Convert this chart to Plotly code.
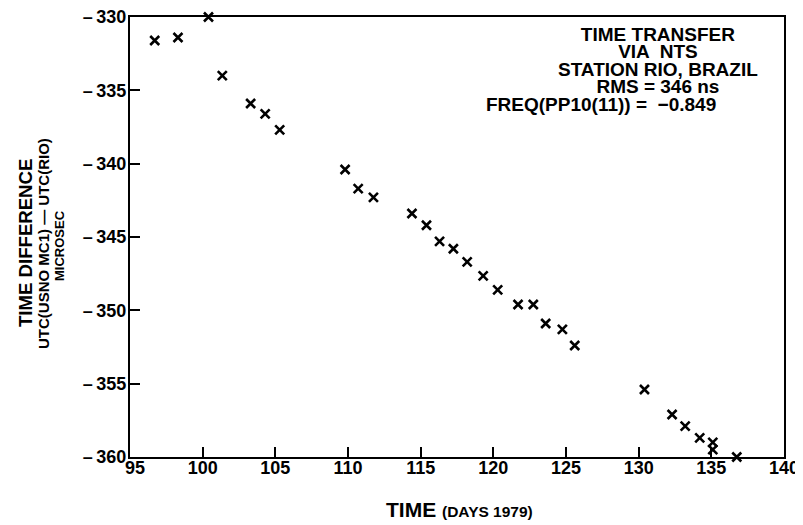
import plotly.graph_objects as go

# Data
days = [96.7, 98.3, 100.4, 101.35, 103.3, 104.3, 105.3, 109.8, 110.7, 111.75,
        114.4, 115.4, 116.3, 117.25, 118.2, 119.3, 120.3, 121.7, 122.75, 123.6,
        124.75, 125.6, 130.4, 132.3, 133.2, 134.2, 135.1, 135.1, 136.75]
time_diff = [-331.6, -331.4, -330.0, -334.0, -335.9, -336.6, -337.7, -340.4, -341.7, -342.3,
             -343.4, -344.2, -345.3, -345.8, -346.7, -347.65, -348.6, -349.6, -349.6, -350.9,
             -351.3, -352.4, -355.4, -357.1, -357.9, -358.7, -359.0, -359.5, -360.0]

x_ticks = [95, 100, 105, 110, 115, 120, 125, 130, 135, 140]
x_tick_labels = ["\u00a0\u00a095", "100", "105", "110", "115", "120", "125", "130", "135", "140"]
y_ticks = [-330, -335, -340, -345, -350, -355, -360]
y_tick_labels = ["\u2013\u2009330", "\u2013\u2009335", "\u2013\u2009340", "\u2013\u2009345",
                 "\u2013\u2009350", "\u2013\u2009355", "\u2013\u2009360"]

info_lines = ["TIME TRANSFER", "VIA  NTS", "STATION RIO, BRAZIL", "RMS = 346 ns"]
freq_line = "FREQ(PP10(11)) =  \u22120.849"

# The page body keeps its default 8px margin, so the figure starts 8px in.
OFF = 8
W, H = 803 - OFF, 525 - OFF
ML, MT = 130 - OFF, 17 - OFF
MR = W - (784 - OFF)
MB = H - (457 - OFF)
PW, PH = W - ML - MR, H - MT - MB


def px(xp):
    """page pixel x -> paper coordinate"""
    return (xp - OFF - ML) / PW


def py(yp):
    """page pixel y -> paper coordinate"""
    return (H - MB - (yp - OFF)) / PH


BOLD = "Liberation Sans, Arial, Helvetica, sans-serif"
TICKFONT = dict(family=BOLD, size=18, color="black", weight="bold")

fig = go.Figure()
fig.add_trace(go.Scatter(
    x=days, y=time_diff, mode="markers",
    marker=dict(symbol="x-thin-open", size=9, color="black",
                line=dict(width=2.6, color="black")),
    cliponaxis=False, showlegend=False,
))

fig.update_layout(
    width=W, height=H,
    margin=dict(l=ML, r=MR, t=MT, b=MB, autoexpand=False),
    paper_bgcolor="white", plot_bgcolor="white",
    xaxis=dict(range=[95, 140], tickvals=x_ticks, ticktext=x_tick_labels,
               ticks="inside", ticklen=10, tickwidth=2, tickcolor="black",
               showline=True, linewidth=2, linecolor="black", mirror=True,
               showgrid=False, zeroline=False, tickfont=TICKFONT,
               ticklabelstandoff=-7, automargin=False, ticklabeloverflow="allow"),
    yaxis=dict(range=[-360, -330], tickvals=y_ticks, ticktext=y_tick_labels,
               ticks="inside", ticklen=10, tickwidth=2, tickcolor="black",
               showline=True, linewidth=2, linecolor="black", mirror=True,
               showgrid=False, zeroline=False, tickfont=TICKFONT,
               ticklabelstandoff=-2, automargin=False, ticklabeloverflow="allow"),
)

ann = []
# Info block (top right): tight line spacing via small base font, large spans
block = "<br>".join("<span style='font-size:19px'>" + t + "</span>" for t in info_lines)
ann.append(dict(x=px(658), y=py(60), xref="paper", yref="paper", text=block,
                showarrow=False, xanchor="center", yanchor="middle", align="center",
                font=dict(family=BOLD, size=13.4, color="black", weight="bold")))
ann.append(dict(x=px(718), y=py(104), xref="paper", yref="paper", text=freq_line,
                showarrow=False, xanchor="right", yanchor="middle",
                font=dict(family=BOLD, size=19, color="black", weight="bold")))

# Y axis title (three lines)
ann.append(dict(x=px(25), y=py(243), xref="paper", yref="paper", text="TIME DIFFERENCE",
                showarrow=False, textangle=-90, xanchor="center", yanchor="middle",
                font=dict(family=BOLD, size=18.6, color="black", weight="bold")))
ann.append(dict(x=px(44), y=py(244), xref="paper", yref="paper",
                text="UTC(USNO MC1) \u2014 UTC(RIO)",
                showarrow=False, textangle=-90, xanchor="center", yanchor="middle",
                font=dict(family=BOLD, size=15, color="black", weight="bold")))
ann.append(dict(x=px(59), y=py(246), xref="paper", yref="paper", text="MICROSEC",
                showarrow=False, textangle=-90, xanchor="center", yanchor="middle",
                font=dict(family=BOLD, size=13, color="black", weight="bold")))

# X axis title
ann.append(dict(x=px(459), y=py(510), xref="paper", yref="paper",
                text="TIME <span style='font-size:15.5px'>(DAYS 1979)</span>",
                showarrow=False, xanchor="center", yanchor="middle",
                font=dict(family=BOLD, size=21, color="black", weight="bold")))

fig.update_layout(annotations=ann)
fig.write_html("out.html")
